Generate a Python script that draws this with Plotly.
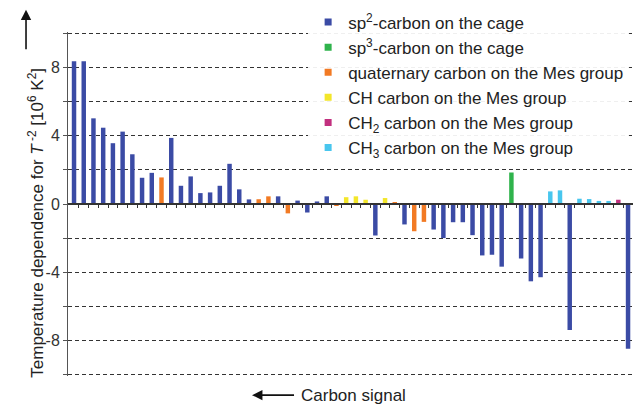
import plotly.graph_objects as go

# ---- data ----
signal_index = list(range(1, 59))
values = [8.38, 8.38, 5.03, 4.48, 3.57, 4.25, 2.92, 1.54, 1.83, 1.56,
          3.88, 1.07, 1.62, 0.64, 0.68, 1.07, 2.36, 0.86, 0.27, 0.28,
          0.45, 0.45, -0.55, 0.20, -0.50, 0.15, 0.45, -0.08, 0.40, 0.45,
          0.25, -1.85, 0.35, 0.10, -1.20, -1.60, -1.05, -1.50, -2.00, -1.07,
          -1.07, -1.83, -3.02, -2.98, -3.68, 1.85, -3.20, -4.54, -4.30, 0.74,
          0.80, -7.40, 0.31, 0.29, 0.18, 0.18, 0.25, -8.50]
carbon_type = ["sp2", "sp2", "sp2", "sp2", "sp2", "sp2", "sp2", "sp2", "sp2", "quat",
               "sp2", "sp2", "sp2", "sp2", "sp2", "sp2", "sp2", "sp2", "sp2", "quat",
               "quat", "sp2", "quat", "sp2", "sp2", "sp2", "sp2", "quat", "CH", "CH",
               "CH", "sp2", "CH", "quat", "sp2", "quat", "quat", "sp2", "sp2", "sp2",
               "sp2", "sp2", "sp2", "sp2", "sp2", "sp3", "sp2", "sp2", "sp2", "CH3",
               "CH3", "sp2", "CH3", "CH3", "CH3", "CH3", "CH2", "sp2"]
type_keys = ["sp2", "sp3", "quat", "CH", "CH2", "CH3"]
type_labels = ["sp<sup>2</sup>-carbon on the cage",
               "sp<sup>3</sup>-carbon on the cage",
               "quaternary carbon on the Mes group",
               "CH carbon on the Mes group",
               "CH<sub>2</sub> carbon on the Mes group",
               "CH<sub>3</sub> carbon on the Mes group"]
type_colors = ["#3b4ba5", "#2fb34c", "#f27a24", "#f3e62a", "#c2307f", "#48c6ee"]
y_labelled_ticks = [-8, -4, 0, 4, 8]
y_tick_labels = ["-8", "-4", "0", "4", "8"]

FONT = "Liberation Sans, Arial, Helvetica, sans-serif"

fig = go.Figure()
for key, label, color in zip(type_keys, type_labels, type_colors):
    xs = [i for i, t in zip(signal_index, carbon_type) if t == key]
    ys = [v for v, t in zip(values, carbon_type) if t == key]
    fig.add_trace(go.Bar(x=xs, y=ys, width=0.46, marker=dict(color=color, line=dict(width=0)),
                         name=label, legendgroup=key, showlegend=False))
    fig.add_trace(go.Scatter(x=[None], y=[None], mode="markers", name=label, legendgroup=key,
                             marker=dict(symbol="square", size=7, color=color)))

fig.update_layout(
    width=633, height=405,
    margin=dict(l=68, r=0, t=32, b=29),
    paper_bgcolor="white", plot_bgcolor="white",
    font=dict(family=FONT, size=16, color="#222"),
    barmode="overlay",
    showlegend=True,
    legend=dict(x=0.425, xanchor="left", y=1.08, yanchor="top",
                bgcolor="rgba(255,255,255,0.92)", borderwidth=0,
                font=dict(family=FONT, size=17, color="#222"),
                tracegroupgap=0, itemclick=False),
    xaxis=dict(range=[0.38, 58.51], anchor="free", position=0.5,
               showline=True, linecolor="#333", linewidth=1.5,
               ticks="outside", ticklen=3, tickcolor="#333",
               tickvals=[i + 0.5 for i in signal_index[:-1]],
               showticklabels=False, showgrid=False, zeroline=False),
    yaxis=dict(range=[-10.1, 10.1], tickvals=y_labelled_ticks, ticktext=y_tick_labels,
               showline=True, linecolor="#555", linewidth=1,
               ticks="outside", ticklen=4, tickcolor="#555",
               tickfont=dict(size=16, color="#333"),
               showgrid=True, gridcolor="#333", gridwidth=1, griddash="4px,3px",
               minor=dict(tick0=0, dtick=2, ticks="outside", ticklen=4, tickcolor="#555",
                          showgrid=True, gridcolor="#333", gridwidth=1, griddash="4px,3px"),
               zeroline=False),
    annotations=[
        dict(text="Temperature dependence for <i>T</i><sup> -2</sup> [10<sup>6</sup> K<sup>2</sup>]",
             xref="paper", yref="paper", x=-0.057, y=0.445, xanchor="center", yanchor="middle",
             textangle=-90, showarrow=False, font=dict(size=17, color="#222")),
        dict(text="", xref="paper", yref="paper", x=-0.0743, y=1.065,
             showarrow=True, ax=0, ay=41, arrowhead=2, arrowsize=1.3, arrowwidth=1.6,
             arrowcolor="#111"),
        dict(text="Carbon signal", xref="paper", yref="paper", x=0.3257, y=-0.0556,
             showarrow=True, ax=101, ay=0, arrowhead=2, arrowsize=1.3, arrowwidth=1.6,
             arrowcolor="#111", startstandoff=6, borderpad=0,
             font=dict(size=17, color="#222")),
    ],
)

fig.write_html("out.html", config={"displayModeBar": False},
               post_script="document.body.style.margin='0';")
